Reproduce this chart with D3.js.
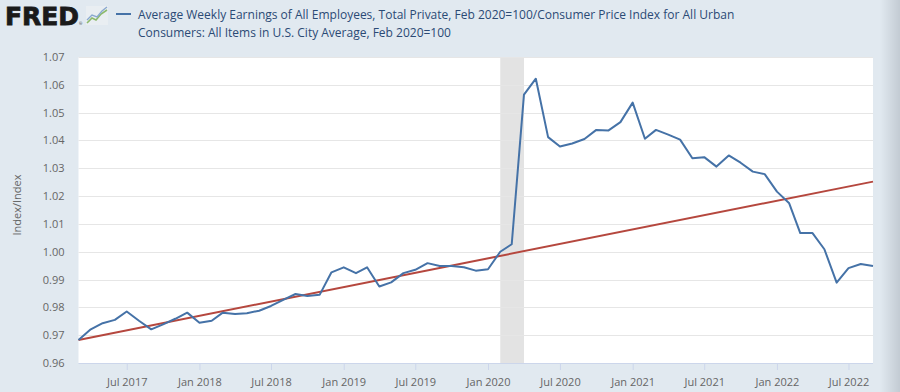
<!DOCTYPE html>
<html>
<head>
<meta charset="utf-8">
<script src="https://cdn.jsdelivr.net/npm/d3@7/dist/d3.min.js"></script>
<style>
  html, body { margin: 0; padding: 0; background: #e1e9f0; }
  svg { display: block; font-family: 'Open Sans', sans-serif; }
</style>
</head>
<body>
<svg id="chart" width="900" height="392"></svg>
<script>

// monthly observations, Mar 2017 .. Sep 2022
const startMonth = '2017-03';
const realEarnings = [
  0.9683, 0.9721, 0.9743, 0.9755, 0.9785, 0.9752, 0.9721, 0.9739, 0.9759, 0.9781,
  0.9745, 0.9752, 0.9781, 0.9776, 0.9779, 0.9788, 0.9805, 0.9827, 0.9848, 0.9841, 0.9845, 0.9926,
  0.9944, 0.9923, 0.9944, 0.9875, 0.9890, 0.9923, 0.9935, 0.9959, 0.9949, 0.9949, 0.9944, 0.9932,
  0.9937, 1.0000, 1.0027, 1.0565, 1.0622, 1.0412, 1.0378, 1.0389, 1.0405, 1.0438, 1.0436, 1.0466,
  1.0536, 1.0406, 1.0438, 1.0421, 1.0403, 1.0336, 1.0340, 1.0306, 1.0346, 1.0320, 1.0288, 1.0279,
  1.0216, 1.0174, 1.0067, 1.0067, 1.0009, 0.9889, 0.9941, 0.9956, 0.9949
];

// straight trend line, first and last month
const trendMonths = ['2017-03', '2022-09'];
const trendValues = [0.9683, 1.0252];

// recession shading
const recession = ['2020-02', '2020-04'];

const yTicks = [0.96, 0.97, 0.98, 0.99, 1.00, 1.01, 1.02, 1.03, 1.04, 1.05, 1.06, 1.07];
const xTickMonths = ['2017-07', '2018-01', '2018-07', '2019-01', '2019-07', '2020-01',
  '2020-07', '2021-01', '2021-07', '2022-01', '2022-07'];

const legendLines = [
  'Average Weekly Earnings of All Employees, Total Private, Feb 2020=100/Consumer Price Index for All Urban',
  'Consumers: All Items in U.S. City Average, Feb 2020=100'
];
const yTitle = 'Index/Index';


const parseMonth = d3.timeParse('%Y-%m');
const fmtTick = d3.timeFormat('%b %Y');

const svg = d3.select('#chart');
const plot = { left: 78.5, right: 873, top: 57, bottom: 363 };

const dates = d3.timeMonth.range(parseMonth(startMonth),
  d3.timeMonth.offset(parseMonth(startMonth), realEarnings.length));
const series = dates.map((d, i) => ({ date: d, value: realEarnings[i] }));

const x = d3.scaleTime()
  .domain([dates[0], dates[dates.length - 1]])
  .range([plot.left, plot.right]);

const y = d3.scaleLinear()
  .domain([0.96, 1.07])
  .range([plot.bottom, plot.top]);


// right edge shadow
const defs = svg.append('defs');
const grad = defs.append('linearGradient').attr('id', 'edge');
grad.append('stop').attr('offset', '0%').attr('stop-color', '#e1e9f0');
grad.append('stop').attr('offset', '100%').attr('stop-color', '#c3cbd3');
svg.append('rect')
  .attr('x', 880).attr('y', 0)
  .attr('width', 20).attr('height', 392)
  .style('fill', 'url(#edge)');


// header
svg.append('text')
  .attr('x', 5).attr('y', 25)
  .attr('textLength', 74)
  .attr('lengthAdjust', 'spacingAndGlyphs')
  .style('font-family', "'DejaVu Sans', sans-serif")
  .style('font-weight', 'bold')
  .style('font-size', '24px')
  .style('fill', '#1a1a1a')
  .style('stroke', '#1a1a1a')
  .style('stroke-width', 0.8)
  .text('FRED');

svg.append('text')
  .attr('x', 79).attr('y', 25)
  .style('font-size', '4px')
  .style('fill', '#333')
  .text('®');

const icon = svg.append('g').attr('transform', 'translate(86,6)');
icon.append('rect')
  .attr('width', 22).attr('height', 19)
  .style('fill', '#e9eef2');
icon.append('path')
  .attr('d', 'M1,17 L6,12 L10,14 L15,8 L21,4')
  .style('fill', 'none').style('stroke', '#8cba6b').style('stroke-width', 1.6);
icon.append('path')
  .attr('d', 'M1,14 L6,9 L11,11 L16,5 L21,1')
  .style('fill', 'none').style('stroke', '#8aa9cf').style('stroke-width', 1.4);

svg.append('line')
  .attr('x1', 116).attr('x2', 131)
  .attr('y1', 14).attr('y2', 14)
  .style('stroke', '#4572a7')
  .style('stroke-width', 2);

svg.append('g')
  .selectAll('text')
  .data(legendLines)
  .enter()
  .append('text')
  .attr('x', 138)
  .attr('y', (d, i) => 19 + i * 17.5)
  .style('font-size', '12px')
  .style('fill', '#2b4a75')
  .text(d => d);


// plot background
svg.append('rect')
  .attr('x', plot.left).attr('y', plot.top)
  .attr('width', plot.right - plot.left)
  .attr('height', plot.bottom - plot.top)
  .style('fill', '#ffffff');

// recession band
svg.append('rect')
  .attr('x', x(parseMonth(recession[0])))
  .attr('y', plot.top)
  .attr('width', x(parseMonth(recession[1])) - x(parseMonth(recession[0])))
  .attr('height', plot.bottom - plot.top)
  .style('fill', '#e3e3e3');

// grid
svg.append('g')
  .selectAll('line')
  .data(yTicks.slice(1))
  .enter()
  .append('line')
  .attr('x1', plot.left).attr('x2', plot.right)
  .attr('y1', d => Math.round(y(d)) + 0.5)
  .attr('y2', d => Math.round(y(d)) + 0.5)
  .style('stroke', '#e6e6e6')
  .style('stroke-width', 1);

// y axis
const yAxis = svg.append('g')
  .attr('transform', `translate(${plot.left},0)`)
  .call(d3.axisLeft(y).tickValues(yTicks).tickSize(0).tickPadding(14)
    .tickFormat(d3.format('.2f')));
yAxis.select('.domain').remove();
yAxis.selectAll('text')
  .style('font-family', "'Open Sans', sans-serif")
  .style('font-size', '11px')
  .style('fill', '#666666');

svg.append('text')
  .attr('transform', 'translate(21,205) rotate(-90)')
  .attr('text-anchor', 'middle')
  .style('font-size', '11px')
  .style('fill', '#666666')
  .text(yTitle);

// x axis
const xAxis = svg.append('g')
  .attr('transform', `translate(0,${plot.bottom})`)
  .call(d3.axisBottom(x).tickValues(xTickMonths.map(parseMonth))
    .tickSize(7).tickPadding(8).tickFormat(fmtTick));
xAxis.select('.domain')
  .attr('d', `M${plot.left},0.5H${plot.right}`)
  .style('stroke', '#ccd6eb');
xAxis.selectAll('.tick line')
  .style('stroke', '#ccd6eb');
xAxis.selectAll('text')
  .style('font-family', "'Open Sans', sans-serif")
  .style('font-size', '11px')
  .style('fill', '#666666');

// trend line
svg.append('path')
  .datum(trendMonths.map((m, i) => ({ date: parseMonth(m), value: trendValues[i] })))
  .attr('d', d3.line().x(d => x(d.date)).y(d => y(d.value)))
  .style('fill', 'none')
  .style('stroke', '#b5473e')
  .style('stroke-width', 2);

// main series
svg.append('path')
  .datum(series)
  .attr('d', d3.line().x(d => x(d.date)).y(d => y(d.value)))
  .style('fill', 'none')
  .style('stroke', '#4572a7')
  .style('stroke-width', 2)
  .style('stroke-linejoin', 'round');

</script>
</body>
</html>
